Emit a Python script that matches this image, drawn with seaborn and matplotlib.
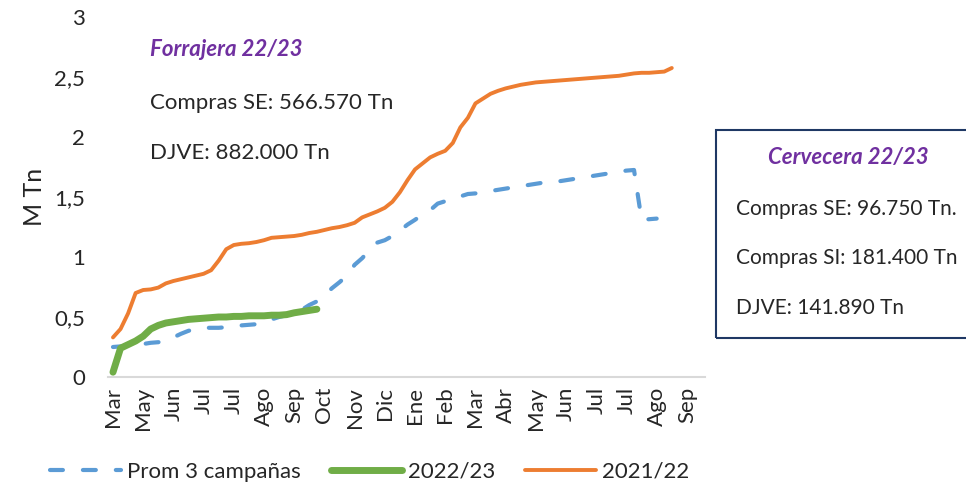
import numpy as np
import pandas as pd
import matplotlib.pyplot as plt
import seaborn as sns
from matplotlib.patches import Rectangle
from matplotlib.lines import Line2D

# tick labels (one every 4 points of the series)
month_labels = ["Mar", "May", "Jun", "Jul", "Jul", "Ago", "Sep", "Oct", "Nov", "Dic",
                "Ene", "Feb", "Mar", "Abr", "May", "Jun", "Jul", "Jul", "Ago", "Sep"]

# M Tn, weekly points
prom_3 = [0.25, 0.255, 0.26, 0.265, 0.275, 0.285, 0.29, 0.30, 0.33, 0.36,
          0.385, 0.40, 0.41, 0.41, 0.41, 0.415, 0.425, 0.43, 0.435, 0.44,
          0.455, 0.48, 0.50, 0.515, 0.535, 0.56, 0.60, 0.63, 0.68, 0.74,
          0.79, 0.845, 0.935, 0.99, 1.06, 1.12, 1.14, 1.175, 1.22, 1.27,
          1.31, 1.355, 1.39, 1.445, 1.465, 1.49, 1.505, 1.525, 1.53, 1.54,
          1.55, 1.56, 1.57, 1.58, 1.59, 1.60, 1.61, 1.62, 1.625, 1.63,
          1.64, 1.65, 1.66, 1.67, 1.68, 1.69, 1.70, 1.71, 1.72, 1.725,
          1.31, 1.315, 1.32]

camp_2223 = [0.04, 0.24, 0.27, 0.30, 0.34, 0.40, 0.43, 0.45, 0.46, 0.47,
             0.48, 0.485, 0.49, 0.495, 0.50, 0.50, 0.505, 0.505, 0.51, 0.51,
             0.51, 0.515, 0.515, 0.52, 0.535, 0.545, 0.555, 0.565]

camp_2122 = [0.33, 0.40, 0.53, 0.70, 0.725, 0.73, 0.745, 0.78, 0.80, 0.815,
             0.83, 0.845, 0.86, 0.89, 0.97, 1.065, 1.10, 1.11, 1.115, 1.125,
             1.14, 1.16, 1.165, 1.17, 1.175, 1.185, 1.20, 1.21, 1.225, 1.24,
             1.25, 1.265, 1.285, 1.33, 1.355, 1.38, 1.41, 1.46, 1.54, 1.64,
             1.73, 1.78, 1.83, 1.86, 1.885, 1.95, 2.08, 2.16, 2.28, 2.32,
             2.36, 2.385, 2.405, 2.42, 2.435, 2.445, 2.455, 2.46, 2.465, 2.47,
             2.475, 2.48, 2.485, 2.49, 2.495, 2.50, 2.505, 2.51, 2.52, 2.53,
             2.535, 2.535, 2.54, 2.545, 2.575]

BLUE = "#5B9BD5"
GREEN = "#70AD47"
ORANGE = "#ED7D31"
PURPLE = "#7030A0"
DASH = (0, (3.1, 4.8))

sns.set_style("white")
plt.rcParams['font.family'] = ['Lato', 'DejaVu Sans']

W, H = 966, 487
fig = plt.figure(figsize=(W / 100, H / 100), dpi=100)
ax = fig.add_axes([108 / W, 1 - 377 / H, (705 - 108) / W, (377 - 17) / H])

sns.lineplot(x=np.arange(len(prom_3)), y=prom_3, ax=ax, color=BLUE, linewidth=3,
             linestyle=DASH)
ax.lines[-1].set_dash_capstyle("round")
sns.lineplot(x=np.arange(len(camp_2223)), y=camp_2223, ax=ax, color=GREEN, linewidth=5,
             solid_capstyle="round")
sns.lineplot(x=np.arange(len(camp_2122)), y=camp_2122, ax=ax, color=ORANGE, linewidth=2.8,
             solid_capstyle="round")

ax.set_xlim(-0.66, 78.4)
ax.set_ylim(0, 3)
ax.set_xticks(np.arange(len(month_labels)) * 4)
ax.set_xticklabels(month_labels, rotation=90, fontsize=16)
yt = [0, 0.5, 1, 1.5, 2, 2.5, 3]
ax.set_yticks(yt)
ax.set_yticklabels([f"{v:g}".replace(".", ",") for v in yt], fontsize=16)
ax.tick_params(axis="x", length=0, pad=7)
ax.tick_params(axis="y", length=0, pad=16.5)
ax.set_ylabel("M Tn", fontsize=18, labelpad=6)
ax.set_xlabel("")
for s in ["top", "right", "left"]:
    ax.spines[s].set_visible(False)
ax.spines["bottom"].set_color("#D9D9D9")
ax.spines["bottom"].set_linewidth(1.5)


def ftext(x, y, s, size=16, **kw):
    fig.text(x / W, 1 - y / H, s, va="center", fontsize=size, **kw)


ftext(150, 50, "Forrajera 22/23", color=PURPLE, fontweight="bold", style="italic")
ftext(150, 103, "Compras SE: 566.570 Tn")
ftext(150, 153, "DJVE: 882.000 Tn")

box = Rectangle((716 / W, 1 - 338 / H), 270 / W, (338 - 130) / H, transform=fig.transFigure,
                fill=False, edgecolor="#1F3864", linewidth=1.5, clip_on=False)
fig.patches.append(box)
fig.text(848 / W, 1 - 157 / H, "Cervecera 22/23", ha="center", va="center", fontsize=16,
         color=PURPLE, fontweight="bold", style="italic")
ftext(736, 209, "Compras SE: 96.750 Tn.", size=15)
ftext(736, 258, "Compras SI: 181.400 Tn", size=15)
ftext(736, 308, "DJVE: 141.890 Tn", size=15)

handles = [
    Line2D([], [], color=BLUE, linewidth=3, linestyle=DASH, dash_capstyle="round"),
    Line2D([], [], color=GREEN, linewidth=5, solid_capstyle="round"),
    Line2D([], [], color=ORANGE, linewidth=2.8, solid_capstyle="round"),
]
fig.legend(handles, ["Prom 3 campañas", "2022/23", "2021/22"], loc="center left",
           bbox_to_anchor=(50 / W, 1 - 472 / H), ncol=3, frameon=False, fontsize=16,
           borderpad=0, borderaxespad=0,
           handlelength=3.2, handletextpad=0.27, columnspacing=1.35)

fig.savefig("out.png", dpi=100)
